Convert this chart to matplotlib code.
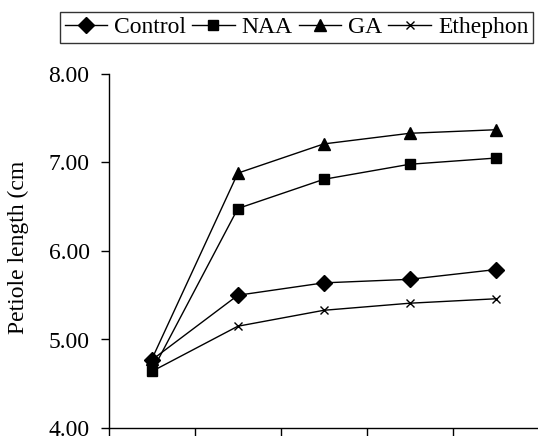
import matplotlib
matplotlib.use("Agg")
import matplotlib.pyplot as plt
import numpy as np

plt.rcParams['font.family'] = ['Liberation Serif', 'DejaVu Serif']

categories = [1, 2, 3, 4, 5]
control = [4.77, 5.50, 5.64, 5.68, 5.79]
naa = [4.64, 6.48, 6.81, 6.98, 7.05]
ga = [4.78, 6.88, 7.21, 7.33, 7.37]
ethephon = [4.64, 5.15, 5.33, 5.41, 5.46]
yticks = [4.0, 5.0, 6.0, 7.0, 8.0]

fig = plt.figure(figsize=(5.38, 4.36), dpi=100)
left, bottom_px, top_px = 109, 428, 74
ax = fig.add_axes([left/538, (436-bottom_px)/436, (538-left)/538 + 0.001, (bottom_px-top_px)/436])

x = np.arange(len(categories))
ax.plot(x, control, color='black', lw=1, marker='D', ms=8, label='Control')
ax.plot(x, naa, color='black', lw=1, marker='s', ms=7, label='NAA')
ax.plot(x, ga, color='black', lw=1, marker='^', ms=8, label='GA')
ax.plot(x, ethephon, color='black', lw=1, marker='x', ms=6, mew=1, label='Ethephon')

ax.set_xlim(-0.5, 4.5)
ax.set_ylim(4.0, 8.0)
ax.set_xticks(np.arange(-0.5, 4.6, 1.0))
ax.set_xticklabels([])
ax.set_yticks(yticks)
ax.set_yticklabels([f"{v:.2f}" for v in yticks], fontsize=17)
ax.tick_params(axis='both', direction='out', length=6, width=1, color='black', pad=8)
for s in ['top', 'right']:
    ax.spines[s].set_visible(False)
for s in ['left', 'bottom']:
    ax.spines[s].set_linewidth(1)
ax.set_ylabel('Petiole length (cm', fontsize=17)
ax.yaxis.set_label_coords(-0.187, 0.511)

leg = fig.legend(loc='center left', bbox_to_anchor=(60/538, 1 - 27.5/436), ncol=4,
                 fontsize=17, frameon=True, fancybox=False, edgecolor='black',
                 handlelength=1.8, handletextpad=0.3, columnspacing=0.25,
                 borderpad=0.2, borderaxespad=0)
leg.get_frame().set_linewidth(1)

fig.savefig('out.png', dpi=100)
